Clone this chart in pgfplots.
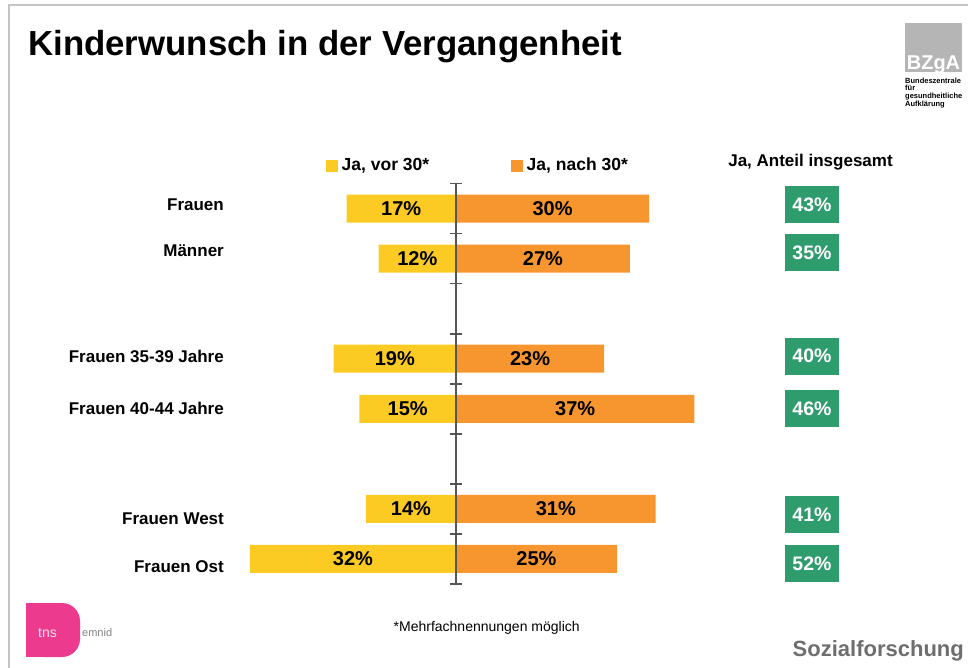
\documentclass[border=0pt]{standalone}
\usepackage{fontspec}
\setmainfont{Liberation Sans}
\usepackage{pgfplots}
\usepackage{pgfplotstable}
\pgfplotsset{compat=1.18}
\definecolor{jaYellow}{HTML}{FCCB23}
\definecolor{jaOrange}{HTML}{F7962F}
\definecolor{jaGreen}{HTML}{2F9C6E}
\definecolor{axisgray}{HTML}{555555}
\definecolor{framegray}{HTML}{C4C4C4}
\definecolor{logogray}{HTML}{B5B5B5}
\definecolor{tnspink}{HTML}{EC3A8E}
\definecolor{sozgray}{HTML}{6E6E6E}

\pgfplotstableread{
y vor nach ges dl db name
0 17 30 43 -0.07 -0.08 Frauen
1 12 27 35 -0.16 -0.12 Männer
3 19 23 40 -0.05 -0.05 {Frauen 35-39 Jahre}
4 15 37 46 0 0 {Frauen 40-44 Jahre}
6 14 31 41 0.19 0.12 {Frauen West}
7 32 25 52 0.16 0.09 {Frauen Ost}
}\data

\begin{document}
\begin{tikzpicture}
\useasboundingbox (0,0) rectangle (968pt,-668pt);
% slide frame
\draw[framegray, line width=2pt] (9pt,-668pt) -- (9pt,-5pt) -- (968pt,-5pt);
% title
\node[anchor=base west, inner sep=0] at (28pt,-56pt) {\fontsize{34.8}{40}\selectfont\bfseries Kinderwunsch in der Vergangenheit};
% BZgA logo
\fill[logogray] (905pt,-23pt) rectangle (962pt,-72pt);
\node[anchor=base, text=white, inner sep=0] at (933.5pt,-70pt) {\fontsize{20}{20}\selectfont\bfseries BZgA};
\node[anchor=base west, inner sep=0] at (905pt,-83.5pt) {\fontsize{7.5}{8}\selectfont\bfseries Bundeszentrale};
\node[anchor=base west, inner sep=0] at (905pt,-91pt) {\fontsize{7.5}{8}\selectfont\bfseries für};
\node[anchor=base west, inner sep=0] at (905pt,-99pt) {\fontsize{7.5}{8}\selectfont\bfseries gesundheitliche};
\node[anchor=base west, inner sep=0] at (905pt,-107pt) {\fontsize{7.5}{8}\selectfont\bfseries Aufklärung};
% tns emnid logo
\fill[tnspink, rounded corners=18pt] (26pt,-603pt) rectangle (80pt,-657pt);
\fill[tnspink] (26pt,-603pt) rectangle (50pt,-657pt);
\node[anchor=base west, inner sep=0, text=white!85!tnspink] at (38pt,-637pt) {\fontsize{14}{14}\selectfont tns};
\node[anchor=base west, inner sep=0, text=gray] at (82pt,-636pt) {\fontsize{11}{11}\selectfont emnid};
% legend
\fill[jaYellow] (326pt,-160.5pt) rectangle (337.5pt,-172pt);
\node[anchor=base west, inner sep=0] at (341.5pt,-171pt) {\fontsize{17.5}{20}\selectfont\bfseries Ja, vor 30*};
\fill[jaOrange] (511pt,-160.5pt) rectangle (522.5pt,-172pt);
\node[anchor=base west, inner sep=0] at (526.5pt,-171pt) {\fontsize{17.5}{20}\selectfont\bfseries Ja, nach 30*};
\node[anchor=base, inner sep=0] at (810.5pt,-166.5pt) {\fontsize{17}{20}\selectfont\bfseries Ja, Anteil insgesamt};
% footnote and footer
\node[anchor=base, inner sep=0] at (486.7pt,-631.5pt) {\fontsize{14}{16}\selectfont *Mehrfachnennungen möglich};
\node[anchor=base east, inner sep=0, text=sozgray] at (964pt,-656.5pt) {\fontsize{22}{24}\selectfont\bfseries Sozialforschung};

\begin{axis}[
  at={(198.4pt,-183.5pt)}, anchor=north west,
  scale only axis, width=515.2pt, height=400.5pt,
  xmin=-40, xmax=40, ymin=-0.5, ymax=7.5,
  y dir=reverse, clip=false, axis on top=true,
  axis x line=none, axis y line=center,
  y axis line style={-, draw=axisgray, line width=1.6pt},
  ytick={-0.5,0.5,...,7.5}, yticklabels={,,,,,,,,},
  major tick length=12pt, tick align=center,
  ytick style={draw=axisgray, line width=1.7pt},
]
% bars
\addplot[xbar, bar width=28pt, bar shift=0pt, fill=jaYellow, draw=none]
  table[x expr=-\thisrow{vor}, y=y] {\data};
\addplot[xbar, bar width=28pt, bar shift=0pt, fill=jaOrange, draw=none]
  table[x=nach, y=y] {\data};
% bar labels
\addplot[draw=none, point meta=explicit symbolic,
  nodes near coords={\pgfplotspointmeta\%},
  nodes near coords style={anchor=center, inner sep=0pt, font=\fontsize{20}{22}\selectfont\bfseries}]
  table[x expr=-\thisrow{vor}/2, y=y, meta=vor] {\data};
\addplot[draw=none, point meta=explicit symbolic,
  nodes near coords={\pgfplotspointmeta\%},
  nodes near coords style={anchor=center, inner sep=0pt, font=\fontsize{20}{22}\selectfont\bfseries}]
  table[x expr=\thisrow{nach}/2, y=y, meta=nach] {\data};
% total boxes
\addplot[draw=none, point meta=explicit symbolic,
  nodes near coords={\pgfplotspointmeta\%},
  nodes near coords style={anchor=center, fill=jaGreen, text=white, minimum width=54pt, minimum height=37pt, inner sep=0pt, font=\fontsize{19.5}{22}\selectfont\bfseries}]
  table[x expr=55.28, y expr=\thisrow{y}+\thisrow{db}, meta=ges] {\data};
% row labels
\addplot[draw=none, point meta=explicit symbolic,
  nodes near coords={\pgfplotspointmeta},
  nodes near coords style={anchor=east, inner sep=0pt, font=\fontsize{17}{20}\selectfont\bfseries}]
  table[x expr=-36.02, y expr=\thisrow{y}+\thisrow{dl}, meta=name] {\data};
\end{axis}
\end{tikzpicture}
\end{document}
